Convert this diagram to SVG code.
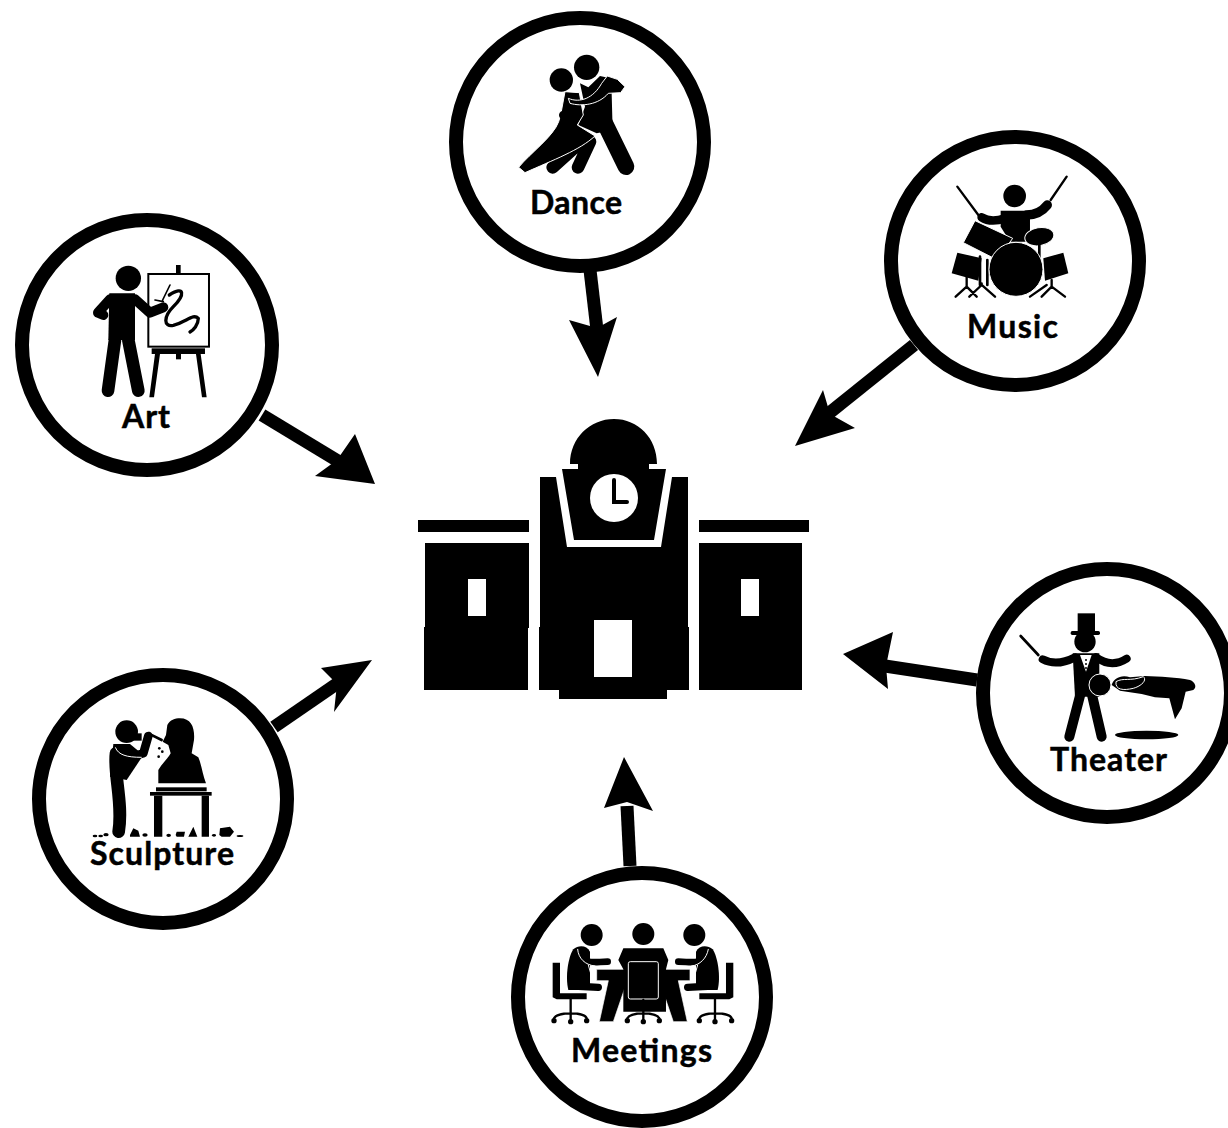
<svg xmlns="http://www.w3.org/2000/svg" width="1228" height="1128" viewBox="0 0 1228 1128">
<style>
.ring{fill:#fff;stroke:#000;stroke-width:14}
.lbl{font-family:"Lato","Open Sans",sans-serif;font-weight:700;font-size:32px;fill:#000;stroke:#000;stroke-width:.5}
.ln{fill:none;stroke:#000;stroke-linecap:round;stroke-linejoin:round}
.wl{fill:none;stroke:#fff;stroke-width:3;stroke-linecap:round}
.icon{fill:#000}
.shaft{stroke:#000;stroke-width:13;fill:none}
</style>
<rect width="1228" height="1128" fill="#fff"/>
<g id="connectors">
<path class="shaft" d="M590 270L597 330"/><path d="M598 377L569 320L597 328L617 317Z"/>
<path class="shaft" d="M914 345L828 414"/><path d="M795 446L823 390L830 414L855 428Z"/>
<path class="shaft" d="M262 415L338 461"/><path d="M375 484L355 434L337 460L315 476Z"/>
<path class="shaft" d="M274 727L338 683"/><path d="M372 660L321 668L337 684L334 712Z"/>
<path class="shaft" d="M977 680L885 666"/><path d="M843 654L893 632L886 666L888 689Z"/>
<path class="shaft" d="M630 866L627 806"/><path d="M624 757L604 808L627 802L653 811Z"/>
</g>
<g id="building">
<rect x="418" y="520" width="111" height="12"/>
<rect x="425" y="543" width="104" height="85"/>
<rect x="424" y="627" width="104" height="63"/>
<rect x="468" y="579" width="18" height="37" fill="#fff"/>
<rect x="699" y="520" width="110" height="12"/>
<rect x="699" y="543" width="103" height="85"/>
<rect x="699" y="627" width="103" height="63"/>
<rect x="741" y="579" width="18" height="37" fill="#fff"/>
<path d="M540 477H556L567 547H661L672 477H688V627H689V690H667V699H559V690H539V627H540Z"/>
<rect x="594" y="620" width="38" height="57" fill="#fff"/>
<path d="M562 469H578V464H570C570 438 590 419 614 419C638 419 657 438 657 464H649V469H666L654 540H574Z"/>
<circle cx="614" cy="498" r="24" fill="#fff"/>
<path d="M614 480V502H627" fill="none" stroke="#000" stroke-width="4" stroke-linecap="round"/>
</g>
<g id="dance">
<circle class="ring" cx="580" cy="142" r="124"/>
<g class="icon" transform="translate(500 50) scale(.3333)">
<circle cx="260" cy="52" r="38"/><circle cx="184" cy="90" r="35"/>
<path d="M240 100L265 112L300 78L345 88L335 130L338 240L290 250L235 225L255 170Z"/>
<path class="ln" d="M312 215L378 350" stroke-width="50"/>
<path class="ln" d="M270 275L234 352M232 285L158 352" stroke-width="38"/>
<path d="M195 125L238 128L250 195L232 225L285 258C240 300 160 330 75 368L56 352C90 310 160 260 176 215L182 195Z" stroke="#fff" stroke-width="3"/>
<path d="M205 145C240 160 280 145 305 100L322 78L352 88L375 110L362 128L325 130C295 165 245 170 210 160Z" stroke="#fff" stroke-width="3"/>
<path class="ln" d="M190 195L215 200" stroke-width="26"/>
</g>
<text class="lbl" x="530" y="214" textLength="92">Dance</text>
</g>
<g id="music">
<circle class="ring" cx="1015" cy="261" r="124"/>
<g class="icon" transform="translate(930 170) scale(.3333)">
<circle cx="254" cy="78" r="34"/>
<path class="ln" d="M82 50L145 135M362 90L410 20" stroke-width="7"/>
<path d="M212 122H300V215H240L212 170Z"/>
<path class="ln" d="M290 135C320 135 340 120 352 105" stroke-width="28"/>
<path class="ln" d="M155 142C175 155 195 155 225 145" stroke-width="26"/>
<path d="M135 152L248 205L202 270L100 218Z" stroke="#fff" stroke-width="3"/>
<ellipse cx="328" cy="200" rx="44" ry="27" transform="rotate(-10 328 200)" stroke="#fff" stroke-width="3"/>
<path class="ln" d="M328 225V270M150 260V345M172 270V345" stroke-width="8"/>
<path d="M82 248L155 265L145 332L65 310Z"/>
<path d="M340 265L400 248L415 310L345 332Z"/>
<path class="ln" d="M110 322V350L77 380M110 350L140 380M155 340V345L118 380M155 345L195 380M350 345L300 380M365 330V350L405 380M365 350L335 380" stroke-width="7"/>
<circle cx="258" cy="298" r="81" stroke="#fff" stroke-width="3"/>
</g>
<text class="lbl" x="967" y="338" textLength="91">Music</text>
</g>
<g id="art">
<circle class="ring" cx="147" cy="345" r="125"/>
<g class="icon" transform="translate(70 250) scale(.3333)">
<circle cx="175" cy="85" r="38"/>
<rect x="318" y="45" width="14" height="30"/>
<rect x="235" y="72" width="182" height="218" fill="#fff" stroke="#000" stroke-width="6"/>
<path d="M118 130H195V270H115Z"/>
<path class="ln" d="M135 270L114 422M175 270L205 422" stroke-width="38"/>
<path class="ln" d="M120 148L84 188L100 195M195 148L240 188L280 172" stroke-width="30"/>
<path class="ln" d="M300 105L278 150M255 150L280 155" stroke-width="5"/>
<path class="ln" d="M298 135C345 105 345 135 310 170C280 200 280 232 310 226C350 215 370 190 385 205C385 225 370 240 360 246" stroke-width="10"/>
<rect x="245" y="295" width="160" height="17"/>
<rect x="318" y="312" width="15" height="16"/>
<path d="M255 312H270L252 442H238ZM378 312H392L410 442H396Z"/>
</g>
<text class="lbl" x="122" y="428" textLength="48">Art</text>
</g>
<g id="sculpture">
<circle class="ring" cx="163" cy="799" r="124"/>
<g class="icon" transform="translate(80 700) scale(.3333)">
<circle cx="140" cy="95" r="34"/>
<path class="ln" d="M108 160C100 220 130 310 116 395" stroke-width="38"/>
<path d="M100 132H150L190 165L140 240L90 230Z"/>
<path class="ln" d="M112 148C130 170 165 170 190 160L205 108" stroke-width="26"/>
<path class="ln" d="M205 100L245 120" stroke-width="8"/>
<path d="M150 100H185V122H150Z"/>
<path d="M106 142C115 165 140 172 185 172" fill="none" stroke="#fff" stroke-width="3"/>
<path d="M300 55C335 55 345 85 342 120L335 160L355 172C365 195 368 225 378 250H235V210C250 185 265 175 272 160L265 135L248 125L258 105L262 75C270 60 285 55 300 55Z"/>
<circle cx="238" cy="145" r="4"/><circle cx="247" cy="155" r="4"/><circle cx="236" cy="170" r="4"/>
<rect x="228" y="262" width="152" height="12"/>
<rect x="210" y="276" width="185" height="11"/>
<path d="M222 287H247V410H222ZM365 287H387V410H365Z"/>
<path d="M150 405L160 385L175 392L180 410H150ZM287 405L290 395L315 395L312 410H290ZM325 410L340 380L352 410ZM418 405L420 385L450 380L462 395L450 410H425Z"/>
<ellipse cx="45" cy="408" rx="7" ry="4"/><ellipse cx="62" cy="408" rx="7" ry="4"/><ellipse cx="78" cy="404" rx="8" ry="5"/><ellipse cx="195" cy="405" rx="8" ry="5"/><ellipse cx="266" cy="406" rx="7" ry="5"/><ellipse cx="402" cy="406" rx="6" ry="4"/><ellipse cx="480" cy="408" rx="10" ry="3"/>
</g>
<text class="lbl" x="90" y="865" textLength="144">Sculpture</text>
</g>
<g id="theater">
<circle class="ring" cx="1107" cy="693" r="124"/>
<g class="icon" transform="translate(1010 600) scale(.3333)">
<rect x="203" y="40" width="52" height="55"/><rect x="182" y="93" width="88" height="12" rx="5"/>
<circle cx="225" cy="125" r="32"/>
<path class="ln" d="M32 108L85 165" stroke-width="8"/>
<path class="ln" d="M98 178C130 195 160 190 195 172M258 172C290 195 320 195 350 176" stroke-width="24"/>
<path d="M188 160H268V290H195Z"/>
<path class="ln" d="M212 280L178 410M245 280L275 410" stroke-width="30"/>
<path d="M210 165H245L228 215Z" fill="#fff"/>
<circle cx="228" cy="180" r="3"/><circle cx="228" cy="192" r="3"/><circle cx="228" cy="204" r="3"/>
<circle cx="270" cy="255" r="33" stroke="#fff" stroke-width="3"/>
<path d="M305 255C310 235 335 222 360 232L405 228C450 230 500 232 540 240C555 245 562 262 550 270L527 275L515 325L495 358L478 295L435 292L395 282L330 272Z"/>
<path d="M318 245C340 232 360 245 400 230C412 240 395 258 370 265C340 272 315 270 318 245Z" stroke="#fff" stroke-width="3"/>
<ellipse cx="410" cy="405" rx="95" ry="13"/>
</g>
<text class="lbl" x="1050" y="771" textLength="117">Theater</text>
</g>
<g id="meetings">
<circle class="ring" cx="642" cy="997" r="124"/>
<g class="icon" transform="translate(540 910) scale(.3333)">
<circle cx="155" cy="75" r="33"/><circle cx="310" cy="72" r="33"/><circle cx="463" cy="75" r="33"/>
<path d="M170 178H262V212L220 335H178L205 212H170Z" stroke="#fff" stroke-width="2"/>
<path d="M450 178H358V212L400 335H442L415 212H450Z" stroke="#fff" stroke-width="2"/>
<path d="M250 115H370L385 150L378 178V305H250V178L235 150Z"/>
<path d="M100 118C115 105 140 105 150 125V240H85C75 200 85 140 100 118Z"/>
<path d="M518 118C503 105 478 105 468 125V240H533C543 200 533 140 518 118Z"/>
<path class="ln" d="M125 135C135 165 165 155 203 155M493 135C483 165 453 155 415 155" stroke-width="20"/>
<path class="wl" d="M113 118C115 145 135 165 165 168M505 118C500 145 480 165 455 168M145 165L152 190M473 165L466 190"/>
<path class="ln" d="M100 228L175 232M518 228L443 232" stroke-width="22"/>
<rect x="265" y="155" width="90" height="112" rx="6" stroke="#fff" stroke-width="3"/>
<path d="M38 158H60V250H140V268H50L38 262Z"/>
<path d="M580 158H558V250H478V268H568L580 262Z"/>
<g fill="none" stroke="#000" stroke-width="7" stroke-linecap="round">
<path d="M92 268V330M42 325C50 305 135 305 140 325"/>
<path d="M525 268V330M478 325C485 305 570 305 575 325"/>
<path d="M310 270V330M262 325C270 305 350 305 358 325"/>
</g>
<circle cx="42" cy="332" r="8"/><circle cx="140" cy="332" r="8"/><circle cx="92" cy="335" r="8"/>
<circle cx="478" cy="332" r="8"/><circle cx="575" cy="332" r="8"/><circle cx="525" cy="335" r="8"/>
<circle cx="262" cy="332" r="8"/><circle cx="358" cy="332" r="8"/><circle cx="310" cy="335" r="8"/>
</g>
<text class="lbl" x="571" y="1062" textLength="141">Meetings</text>
</g>
</svg>
